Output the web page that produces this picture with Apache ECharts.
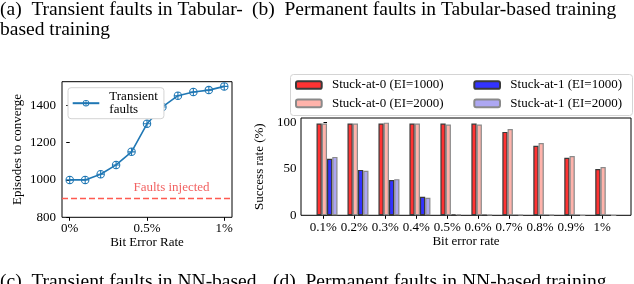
<!DOCTYPE html>
<html>
<head>
<meta charset="utf-8">
<script src="https://cdn.jsdelivr.net/npm/echarts@6/dist/echarts.min.js"></script>
<style>
html,body{margin:0;padding:0;background:#fff;}
#chart{width:634px;height:284px;}
</style>
</head>
<body>
<div id="chart"></div>
<script>
// ---- Data (a): transient faults, tabular ----
const lineX = [0, 0.1, 0.2, 0.3, 0.4, 0.5, 0.6, 0.7, 0.8, 0.9, 1.0];
const lineY = [1000, 1000, 1030, 1080, 1150, 1300, 1390, 1450, 1470, 1480, 1500];
const faultLevel = 900;
const lineXTicks = [0, 0.5, 1];
const lineXTickLabels = ['0%', '0.5%', '1%'];
const lineYTicks = [800, 1000, 1200, 1400];

// ---- Data (b): permanent faults, tabular ----
const barCats = ['0.1%', '0.2%', '0.3%', '0.4%', '0.5%', '0.6%', '0.7%', '0.8%', '0.9%', '1%'];
const s0_1000 = [99, 99, 99, 99, 99, 99, 90, 75, 62, 50];
const s0_2000 = [99, 99, 100, 99, 98, 98, 93, 78, 64, 52];
const s1_1000 = [61, 49, 38, 20, 1, 0.5, 0, 0, 0, 0];
const s1_2000 = [63, 48, 39, 19, 1, 0.5, 0.5, 0.5, 0, 0];
const barYTicks = [0, 50, 100];

const FONT = 'Liberation Serif';
const CAP = 'Liberation Serif';
const chart = echarts.init(document.getElementById('chart'), null, {renderer: 'canvas'});

const plus = 'path://M0 -10A10 10 0 1 1 0 10A10 10 0 1 1 0 -10ZM0 -7.6A7.6 7.6 0 1 0 0 7.6A7.6 7.6 0 1 0 0 -7.6ZM-7.6 -1.3L7.6 -1.3L7.6 1.3L-7.6 1.3ZM-1.3 -7.6L1.3 -7.6L1.3 7.6L-1.3 7.6Z';

const axisText = {fontFamily: FONT, fontSize: 13, color: '#000'};
const barIdx = barCats.map((c, i) => i);
const capFont = '19.5px "' + CAP + '"';

function barSeries(name, vals, color, edge) {
  return {
    name: name, type: 'bar', xAxisIndex: 1, yAxisIndex: 1,
    data: vals.map((v, i) => [barIdx[i], v]),
    barWidth: 5.25, barGap: '0%',
    itemStyle: {color: color, borderColor: edge, borderWidth: 1.2},
    emphasis: {disabled: true}
  };
}

const option = {
  animation: false,
  backgroundColor: '#fff',
  grid: [
    {left: 62, right: 402, top: 81.7, bottom: 66.7, show: true, borderColor: '#000', borderWidth: 1, backgroundColor: 'transparent'},
    {left: 301, right: 3, top: 118, bottom: 68.7, show: true, borderColor: '#000', borderWidth: 1, backgroundColor: 'transparent'}
  ],
  xAxis: [
    {type: 'value', gridIndex: 0, min: -0.05, max: 1.05,
     splitLine: {show: false}, axisLine: {show: false},
     axisTick: {show: true, customValues: lineXTicks, length: 3.5, lineStyle: {color: '#000'}},
     axisLabel: {customValues: lineXTicks, margin: 5, formatter: v => lineXTickLabels[lineXTicks.indexOf(v)], ...axisText},
     name: 'Bit Error Rate', nameLocation: 'middle', nameGap: 19, nameTextStyle: axisText},
    {type: 'value', gridIndex: 1, min: -0.84, max: 9.815, show: false, position: 'top'},
    {type: 'value', gridIndex: 1, min: -0.72, max: 9.935, position: 'bottom',
     splitLine: {show: false}, axisLine: {show: false},
     axisTick: {show: true, customValues: barIdx, length: 3.5, lineStyle: {color: '#000'}},
     axisLabel: {customValues: barIdx, margin: 5.5, formatter: v => barCats[Math.round(v)], ...axisText},
     name: 'Bit error rate', nameLocation: 'middle', nameGap: 19.5, nameTextStyle: axisText}
  ],
  yAxis: [
    {type: 'value', gridIndex: 0, min: 800, max: 1525,
     splitLine: {show: false}, axisLine: {show: false},
     axisTick: {show: true, customValues: lineYTicks, length: 3.5, lineStyle: {color: '#000'}},
     axisLabel: {customValues: lineYTicks, margin: 6, formatter: v => String(v), ...axisText},
     name: 'Episodes to converge', nameLocation: 'middle', nameGap: 37.5, nameTextStyle: axisText},
    {type: 'value', gridIndex: 1, min: 0, max: 105,
     splitLine: {show: false}, axisLine: {show: false},
     axisTick: {show: true, customValues: barYTicks, length: 3.5, lineStyle: {color: '#000'}},
     axisLabel: {customValues: barYTicks, margin: 4.5, formatter: v => String(v), ...axisText},
     name: 'Success rate (%)', nameLocation: 'middle', nameGap: 31.5, nameTextStyle: axisText}
  ],
  legend: [
    {data: ['Transient faults'], left: 68, top: 87.7, width: 94, height: 33,
     orient: 'vertical', padding: [2, 6, 2, 3.7], backgroundColor: '#fff',
     borderColor: '#d4d4d4', borderWidth: 1, borderRadius: 3,
     itemWidth: 26.6, itemHeight: 8,
     formatter: () => 'Transient\nfaults',
     textStyle: {fontFamily: FONT, fontSize: 13, lineHeight: 13.5, color: '#000', padding: [0, 0, 0, 5]}},
    {data: ['Stuck-at-0 (EI=1000)', 'Stuck-at-0 (EI=2000)'], left: 295, top: 78, orient: 'vertical',
     padding: 0, itemWidth: 25.7, itemHeight: 7.7, itemGap: 4.3,
     textStyle: {fontFamily: FONT, fontSize: 13, lineHeight: 14, color: '#000', padding: [0, 0, 0, 5.3]}},
    {data: ['Stuck-at-1 (EI=1000)', 'Stuck-at-1 (EI=2000)'], left: 473.3, top: 78, orient: 'vertical',
     padding: 0, itemWidth: 25.7, itemHeight: 7.7, itemGap: 4.3,
     textStyle: {fontFamily: FONT, fontSize: 13, lineHeight: 14, color: '#000', padding: [0, 0, 0, 5.3]}}
  ],
  graphic: [
    {type: 'rect', left: 290, top: 74, z: -1, shape: {width: 342, height: 41, r: 3},
     style: {fill: '#fff', stroke: '#d4d4d4', lineWidth: 1}},
    {type: 'text', x: 171.5, y: 188, style: {text: 'Faults injected', fill: '#f26262', font: '13px "' + FONT + '"', align: 'center', verticalAlign: 'middle'}},
    {type: 'text', x: 0, y: 10, style: {text: '(a)  Transient faults in Tabular-', fill: '#000', font: capFont, align: 'left', verticalAlign: 'middle'}},
    {type: 'text', x: 0, y: 29.6, style: {text: 'based training', fill: '#000', font: capFont, align: 'left', verticalAlign: 'middle'}},
    {type: 'text', x: 252, y: 10, style: {text: '(b)  Permanent faults in Tabular-based training', fill: '#000', font: capFont, align: 'left', verticalAlign: 'middle'}},
    {type: 'text', x: 0, y: 281.5, style: {text: '(c)  Transient faults in NN-based', fill: '#000', font: capFont, align: 'left', verticalAlign: 'middle'}},
    {type: 'text', x: 273, y: 281.5, style: {text: '(d)  Permanent faults in NN-based training', fill: '#000', font: capFont, align: 'left', verticalAlign: 'middle'}}
  ],
  series: [
    {name: 'Transient faults', type: 'line', xAxisIndex: 0, yAxisIndex: 0,
     data: lineX.map((x, i) => [x, lineY[i]]),
     symbol: plus, symbolSize: 8.5, showSymbol: true,
     lineStyle: {color: '#1f77b4', width: 1.6},
     itemStyle: {color: '#1f77b4'},
     emphasis: {disabled: true},
     markLine: {silent: true, symbol: 'none', label: {show: false},
       lineStyle: {color: '#ff5a50', width: 1.4, type: [6, 3]},
       data: [{yAxis: faultLevel}]}},
    barSeries('Stuck-at-0 (EI=1000)', s0_1000, '#ff3333', '#3a3a3a'),
    barSeries('Stuck-at-0 (EI=2000)', s0_2000, '#ffb3ab', '#8a8a8a'),
    barSeries('Stuck-at-1 (EI=1000)', s1_1000, '#3333ff', '#3a3a3a'),
    barSeries('Stuck-at-1 (EI=2000)', s1_2000, '#ada7f2', '#8a8a8a')
  ]
};
chart.setOption(option);
</script>
</body>
</html>
